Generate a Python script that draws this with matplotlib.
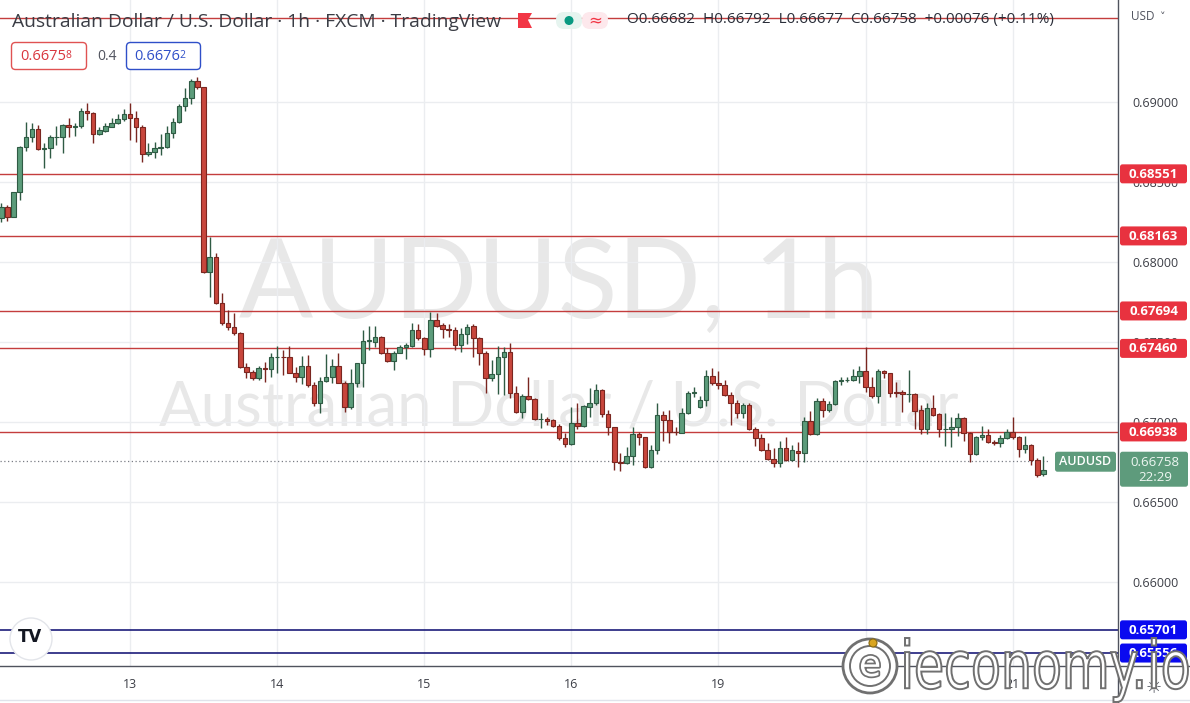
import numpy as np
import matplotlib
matplotlib.use("Agg")
import matplotlib.pyplot as plt
import matplotlib.patheffects as pe
from matplotlib.patches import Circle, FancyBboxPatch, PathPatch, Polygon
from matplotlib.textpath import TextPath
from matplotlib.font_manager import FontProperties
from matplotlib.transforms import Affine2D

# ---------------- data ----------------
opens = [0.68273, 0.68346, 0.68283, 0.68435, 0.68717, 0.68779, 0.68829, 0.68706, 0.68710, 0.68779,
         0.68781, 0.68856, 0.68842, 0.68850, 0.68944, 0.68929, 0.68798, 0.68821, 0.68846, 0.68867,
         0.68892, 0.68925, 0.68898, 0.68842, 0.68673, 0.68685, 0.68710, 0.68717, 0.68804, 0.68877,
         0.68975, 0.69023, 0.69131, 0.69092, 0.67940, 0.68029, 0.67742, 0.67617, 0.67596, 0.67554,
         0.67342, 0.67315, 0.67273, 0.67335, 0.67329, 0.67404, 0.67408, 0.67404, 0.67308, 0.67283,
         0.67350, 0.67231, 0.67121, 0.67258, 0.67283, 0.67350, 0.67246, 0.67092, 0.67242, 0.67367,
         0.67508, 0.67502, 0.67529, 0.67433, 0.67383, 0.67433, 0.67467, 0.67475, 0.67575, 0.67523,
         0.67454, 0.67638, 0.67606, 0.67579, 0.67575, 0.67481, 0.67550, 0.67600, 0.67523, 0.67429,
         0.67273, 0.67300, 0.67404, 0.67440, 0.67183, 0.67065, 0.67163, 0.67146, 0.67017, 0.67017,
         0.67013, 0.66975, 0.66898, 0.66863, 0.66992, 0.66975, 0.67096, 0.67117, 0.67200, 0.67050,
         0.66967, 0.66752, 0.66742, 0.66788, 0.66925, 0.66904, 0.66717, 0.66825, 0.67042, 0.67013,
         0.66940, 0.66933, 0.67054, 0.67183, 0.67092, 0.67138, 0.67288, 0.67242, 0.67229, 0.67169,
         0.67121, 0.67054, 0.67104, 0.66954, 0.66898, 0.66825, 0.66767, 0.66746, 0.66835, 0.66763,
         0.66821, 0.66804, 0.67008, 0.66925, 0.67133, 0.67075, 0.67113, 0.67258, 0.67260, 0.67263,
         0.67290, 0.67319, 0.67221, 0.67165, 0.67319, 0.67304, 0.67188, 0.67190, 0.67173, 0.67175,
         0.67075, 0.66958, 0.67085, 0.67048, 0.66954, 0.66954, 0.66967, 0.67023, 0.66933, 0.66800,
         0.66904, 0.66919, 0.66877, 0.66867, 0.66898, 0.66940, 0.66904, 0.66829, 0.66856, 0.66763,
         0.66675]
highs = [0.68367, 0.68356, 0.68440, 0.68725, 0.68877, 0.68867, 0.68856, 0.68746, 0.68794, 0.68850,
         0.68863, 0.68898, 0.68867, 0.68960, 0.68996, 0.68935, 0.68846, 0.68867, 0.68898, 0.68925,
         0.68954, 0.68992, 0.68946, 0.68856, 0.68746, 0.68752, 0.68800, 0.68850, 0.68898, 0.68988,
         0.69085, 0.69142, 0.69158, 0.69096, 0.68158, 0.68054, 0.67804, 0.67700, 0.67679, 0.67565,
         0.67371, 0.67325, 0.67350, 0.67377, 0.67429, 0.67475, 0.67450, 0.67475, 0.67346, 0.67413,
         0.67419, 0.67252, 0.67283, 0.67425, 0.67392, 0.67429, 0.67258, 0.67329, 0.67371, 0.67575,
         0.67600, 0.67600, 0.67538, 0.67460, 0.67446, 0.67481, 0.67492, 0.67617, 0.67613, 0.67533,
         0.67690, 0.67683, 0.67617, 0.67613, 0.67592, 0.67585, 0.67613, 0.67613, 0.67533, 0.67446,
         0.67388, 0.67475, 0.67467, 0.67492, 0.67225, 0.67175, 0.67283, 0.67150, 0.67054, 0.67033,
         0.67017, 0.66988, 0.66933, 0.67092, 0.67117, 0.67106, 0.67210, 0.67238, 0.67204, 0.67075,
         0.66971, 0.66804, 0.66846, 0.66967, 0.66940, 0.66908, 0.66856, 0.67121, 0.67071, 0.67075,
         0.66971, 0.67085, 0.67196, 0.67221, 0.67163, 0.67325, 0.67335, 0.67321, 0.67263, 0.67190,
         0.67138, 0.67117, 0.67117, 0.66967, 0.66925, 0.66871, 0.66835, 0.66883, 0.66904, 0.66856,
         0.66877, 0.67029, 0.67071, 0.67148, 0.67148, 0.67133, 0.67263, 0.67283, 0.67283, 0.67329,
         0.67350, 0.67471, 0.67279, 0.67329, 0.67325, 0.67308, 0.67252, 0.67200, 0.67325, 0.67183,
         0.67106, 0.67117, 0.67169, 0.67054, 0.67054, 0.67029, 0.67054, 0.67033, 0.66940, 0.66913,
         0.66975, 0.66954, 0.66888, 0.66919, 0.66954, 0.67033, 0.66913, 0.66913, 0.66863, 0.66773,
         0.66785]
lows = [0.68252, 0.68258, 0.68280, 0.68388, 0.68696, 0.68752, 0.68700, 0.68590, 0.68648, 0.68731,
        0.68683, 0.68783, 0.68790, 0.68835, 0.68888, 0.68742, 0.68794, 0.68815, 0.68842, 0.68863,
        0.68883, 0.68763, 0.68752, 0.68627, 0.68663, 0.68648, 0.68669, 0.68710, 0.68773, 0.68867,
        0.68946, 0.68988, 0.69079, 0.67929, 0.67783, 0.67738, 0.67606, 0.67575, 0.67544, 0.67335,
        0.67273, 0.67263, 0.67263, 0.67252, 0.67279, 0.67304, 0.67294, 0.67304, 0.67252, 0.67238,
        0.67221, 0.67100, 0.67054, 0.67252, 0.67246, 0.67242, 0.67065, 0.67079, 0.67221, 0.67221,
        0.67450, 0.67471, 0.67425, 0.67377, 0.67325, 0.67430, 0.67392, 0.67467, 0.67513, 0.67419,
        0.67404, 0.67596, 0.67523, 0.67533, 0.67450, 0.67440, 0.67488, 0.67404, 0.67356, 0.67179,
        0.67258, 0.67175, 0.67169, 0.67148, 0.67054, 0.67023, 0.67138, 0.67013, 0.66960, 0.66981,
        0.66971, 0.66888, 0.66842, 0.66856, 0.66954, 0.66971, 0.67033, 0.67106, 0.67033, 0.66919,
        0.66700, 0.66696, 0.66738, 0.66731, 0.66856, 0.66710, 0.66710, 0.66800, 0.66883, 0.66867,
        0.66919, 0.66929, 0.67050, 0.67158, 0.67090, 0.67100, 0.67231, 0.67204, 0.67163, 0.66981,
        0.67023, 0.67023, 0.66950, 0.66850, 0.66821, 0.66763, 0.66721, 0.66721, 0.66758, 0.66758,
        0.66721, 0.66752, 0.66919, 0.66919, 0.67033, 0.67065, 0.67106, 0.67231, 0.67252, 0.67258,
        0.67242, 0.67190, 0.67148, 0.67121, 0.67273, 0.67158, 0.67158, 0.67065, 0.67127, 0.66954,
        0.66925, 0.66925, 0.67038, 0.66908, 0.66850, 0.66842, 0.66913, 0.66883, 0.66752, 0.66794,
        0.66888, 0.66871, 0.66856, 0.66846, 0.66892, 0.66892, 0.66779, 0.66804, 0.66731, 0.66658,
        0.66665]
closes = [0.68346, 0.68283, 0.68435, 0.68717, 0.68779, 0.68829, 0.68706, 0.68710, 0.68779, 0.68781,
          0.68856, 0.68842, 0.68850, 0.68944, 0.68929, 0.68798, 0.68825, 0.68850, 0.68871, 0.68892,
          0.68925, 0.68898, 0.68842, 0.68673, 0.68685, 0.68710, 0.68717, 0.68804, 0.68877, 0.68975,
          0.69023, 0.69131, 0.69092, 0.67940, 0.68029, 0.67742, 0.67617, 0.67596, 0.67554, 0.67342,
          0.67315, 0.67273, 0.67335, 0.67333, 0.67404, 0.67408, 0.67406, 0.67308, 0.67283, 0.67350,
          0.67231, 0.67121, 0.67258, 0.67283, 0.67350, 0.67246, 0.67092, 0.67242, 0.67367, 0.67508,
          0.67510, 0.67529, 0.67433, 0.67383, 0.67433, 0.67467, 0.67481, 0.67575, 0.67523, 0.67454,
          0.67638, 0.67600, 0.67579, 0.67577, 0.67481, 0.67550, 0.67596, 0.67523, 0.67429, 0.67273,
          0.67300, 0.67404, 0.67440, 0.67183, 0.67065, 0.67163, 0.67146, 0.67017, 0.67017, 0.67008,
          0.66975, 0.66898, 0.66863, 0.66992, 0.66975, 0.67100, 0.67117, 0.67200, 0.67050, 0.66967,
          0.66752, 0.66742, 0.66788, 0.66925, 0.66904, 0.66717, 0.66825, 0.67042, 0.67013, 0.66940,
          0.66938, 0.67054, 0.67183, 0.67185, 0.67138, 0.67288, 0.67242, 0.67229, 0.67169, 0.67121,
          0.67054, 0.67104, 0.66954, 0.66898, 0.66825, 0.66767, 0.66746, 0.66835, 0.66763, 0.66825,
          0.66804, 0.67008, 0.66925, 0.67133, 0.67075, 0.67113, 0.67258, 0.67260, 0.67263, 0.67290,
          0.67319, 0.67221, 0.67165, 0.67319, 0.67304, 0.67179, 0.67181, 0.67173, 0.67175, 0.67071,
          0.66958, 0.67085, 0.67044, 0.66954, 0.66956, 0.66967, 0.67023, 0.66933, 0.66800, 0.66904,
          0.66919, 0.66877, 0.66867, 0.66898, 0.66940, 0.66904, 0.66829, 0.66856, 0.66763, 0.66669,
          0.66702]

day_bar_index = [21, 45, 69, 93, 117, 141, 165]
day_labels = ["13", "14", "15", "16", "19", "20", "21"]

red_levels = [0.68551, 0.68163, 0.67694, 0.67460, 0.66938]
blue_levels = [0.65701, 0.65556]
top_level = 0.69525
last_price = 0.66758
price_ticks = [0.660, 0.665, 0.670, 0.675, 0.680, 0.685, 0.690]

header_title = "Australian Dollar / U.S. Dollar · 1h · FXCM · TradingView"
header_ohlc = "O0.66682  H0.66792  L0.66677  C0.66758  +0.00076 (+0.11%)"
bid_main, bid_sup = "0.6675", "8"
ask_main, ask_sup = "0.6676", "2"
spread = "0.4"
countdown = "22:29"
symbol = "AUDUSD"

# ---------------- style ----------------
GREEN, GREEN_EDGE = "#5c9c7b", "#2f5b44"
RED, RED_EDGE = "#c8463c", "#7a2620"
LEVEL_RED = "#c43d3d"
LEVEL_BLUE = "#1c1c7a"
LABEL_RED = "#e8323f"
LABEL_BLUE = "#0a0af0"
LABEL_GREEN = "#5e9b7c"
GRID = "#ebedf0"
FONT = "Open Sans"
WM_FONT = "Lato"

W, H = 1190, 703
fig = plt.figure(figsize=(W / 100, H / 100), dpi=100)
fig.patch.set_facecolor("white")

AX_R, AX_B = 1118, 666
ax = fig.add_axes([0, (H - AX_B) / H, AX_R / W, AX_B / H])
ax.set_facecolor("white")

px_per_bar = 6.13
x_left = day_bar_index[0] - 130 / px_per_bar
x_right = day_bar_index[0] + (AX_R - 130) / px_per_bar
ax.set_xlim(x_left, x_right)
ax.set_ylim(0.65475, 0.696375)

# grid / ticks
ax.set_xticks(day_bar_index)
ax.set_xticklabels(day_labels)
ax.set_yticks(price_ticks)
ax.set_yticklabels([f"{v:.5f}" for v in price_ticks])
ax.yaxis.tick_right()
ax.tick_params(axis="both", length=0, labelsize=9, labelcolor="#3d3f47")
ax.tick_params(axis="y", pad=10)
ax.tick_params(axis="x", pad=9)
for lab in ax.get_xticklabels() + ax.get_yticklabels():
    lab.set_fontfamily(FONT)
ax.grid(True, color=GRID, lw=1, zorder=0)
ax.set_axisbelow(True)
for s in ["left", "top"]:
    ax.spines[s].set_visible(False)
for s in ["right", "bottom"]:
    ax.spines[s].set_color("#50535e")
    ax.spines[s].set_linewidth(1)

# watermarks
ax.text(0.4995, 1 - 318 / AX_B, "AUDUSD, 1h", transform=ax.transAxes, ha="center", va="baseline",
        fontsize=79, color="#e8e8e8", family=WM_FONT, zorder=0.5)
ax.text(0.4995, 1 - 425 / AX_B, "Australian Dollar / U.S. Dollar", transform=ax.transAxes,
        ha="center", va="baseline", fontsize=44.5, color="#e8e8e8", family=WM_FONT, zorder=0.5)

# candles
o = np.array(opens); h = np.array(highs); l = np.array(lows); c = np.array(closes)
idx = np.arange(len(o))
up = c >= o
dn = ~up
ax.vlines(idx[up], l[up], h[up], color=GREEN_EDGE, lw=1, zorder=3)
ax.vlines(idx[dn], l[dn], h[dn], color=RED_EDGE, lw=1, zorder=3)
ax.bar(idx[up], c[up] - o[up], bottom=o[up], width=0.74, color=GREEN,
       edgecolor=GREEN_EDGE, lw=0.8, zorder=4)
ax.bar(idx[dn], o[dn] - c[dn], bottom=c[dn], width=0.74, color=RED,
       edgecolor=RED_EDGE, lw=0.8, zorder=4)

# levels
for lv in red_levels + [top_level]:
    ax.axhline(lv, color=LEVEL_RED, lw=1, zorder=2)
for lv in blue_levels:
    ax.axhline(lv, color=LEVEL_BLUE, lw=1.2, zorder=2)
ax.axhline(last_price, xmax=(1050 / AX_R), color="#7a7d85", lw=0.9, ls=(0, (1, 2)), zorder=2)

# ---------------- overlay (pixel coords) ----------------
ov = fig.add_axes([0, 0, 1, 1], zorder=10)
ov.set_xlim(0, W)
ov.set_ylim(H, 0)
ov.axis("off")
ov.patch.set_alpha(0)


def price_to_px(price):
    """Pixel row (from top) of a price, through the main axes' scale."""
    return H - ax.transData.transform((0, price))[1]


def axis_label(price, text, fc, tc="white", bold=True):
    y = price_to_px(price)
    ov.add_patch(FancyBboxPatch((1120, y - 9.5), 67, 19, boxstyle="round,pad=0,rounding_size=2.5",
                                fc=fc, ec="none", zorder=20))
    ov.text(1153.5, y + 0.5, text, ha="center", va="center", fontsize=9.5, color=tc, family=FONT,
            fontweight="bold" if bold else "normal", zorder=21)


for lv in red_levels:
    axis_label(lv, f"{lv:.5f}", LABEL_RED)
for lv in blue_levels:
    axis_label(lv, f"{lv:.5f}", LABEL_BLUE)

# current price labels
yp = price_to_px(last_price)
ov.add_patch(FancyBboxPatch((1120, yp - 9), 68, 35, boxstyle="round,pad=0,rounding_size=2.5",
                            fc=LABEL_GREEN, ec="none", zorder=20))
ov.text(1155, yp + 2, f"{last_price:.5f}", ha="center", va="center", fontsize=9.5,
        color="#eef7f2", family=FONT, zorder=21)
ov.text(1155, yp + 17, countdown, ha="center", va="center", fontsize=9.5,
        color="#eef7f2", family=FONT, zorder=21)
ov.add_patch(FancyBboxPatch((1055, yp - 9), 61, 20, boxstyle="round,pad=0,rounding_size=2.5",
                            fc=LABEL_GREEN, ec="none", zorder=20))
ov.text(1085.5, yp + 1, symbol, ha="center", va="center", fontsize=9, color="white",
        family=FONT, fontweight="semibold", zorder=21)

# header
ov.text(12, 22, header_title, fontsize=13.9, color="#3a3d45", family=FONT, va="center", ha="left")
ov.add_patch(Polygon([[518, 13], [532, 13], [528, 20], [532, 28], [518, 28]], closed=True,
                     fc="#f23645", ec="none"))
ov.add_patch(FancyBboxPatch((556, 12), 26, 17, boxstyle="round,pad=0,rounding_size=8",
                            fc="#e6f4ef", ec="none"))
ov.add_patch(FancyBboxPatch((582, 12), 26, 17, boxstyle="round,pad=0,rounding_size=8",
                            fc="#fde8ec", ec="none"))
ov.add_patch(Circle((569, 20.5), 4.5, fc="#089981", ec="none"))
ov.text(595, 20, "≈", fontsize=12, color="#f23645", ha="center", va="center", family="DejaVu Sans")
ov.text(627, 20, header_ohlc, fontsize=11, color="#2a2e39", family=FONT, va="center", ha="left")
ov.text(1131, 16, "USD", fontsize=8.5, color="#50535e", family=FONT, va="center", ha="left")
ov.text(1160, 17, "˅", fontsize=8, color="#50535e", family="DejaVu Sans", va="center", ha="left")

# bid / ask boxes
ov.add_patch(FancyBboxPatch((11.5, 42.5), 75, 27, boxstyle="round,pad=0,rounding_size=4",
                            fc="white", ec="#e05252", lw=1))
t1 = ov.text(20, 57, bid_main, fontsize=10.5, color="#d9363e", family=FONT, va="center", ha="left")
ov.annotate(bid_sup, xy=(1, 0.95), xycoords=t1, fontsize=7.5, color="#d9363e", family=FONT,
            va="top", ha="left")
ov.text(97, 57, spread, fontsize=10, color="#50535e", family=FONT, va="center", ha="left")
ov.add_patch(FancyBboxPatch((126.5, 42.5), 74, 27, boxstyle="round,pad=0,rounding_size=4",
                            fc="white", ec="#2f4fc8", lw=1))
t2 = ov.text(134, 57, ask_main, fontsize=10.5, color="#2f4fc8", family=FONT, va="center", ha="left")
ov.annotate(ask_sup, xy=(1, 0.95), xycoords=t2, fontsize=7.5, color="#2f4fc8", family=FONT,
            va="top", ha="left")

# right axis continuation & bottom line
ov.plot([AX_R, AX_R], [AX_B, H], color="#50535e", lw=1)
ov.plot([0, W], [700, 700], color="#e0e3eb", lw=1)
ov.plot([AX_R, W], [AX_B, AX_B], color="#50535e", lw=1)

# TradingView logo
ov.add_patch(Circle((31, 639), 21, fc="white", ec="#e3e5ea", lw=1))
ov.text(30, 637, "TV", fontsize=12, fontweight="bold", color="#131722", ha="center",
        va="center", family="DejaVu Sans")

# settings icon
ov.text(1154, 688, "☼", fontsize=13, color="#50535e", ha="center", va="center",
        family="DejaVu Sans")

# ieconomy.io logo
fp = FontProperties(family="DejaVu Sans")
tp = TextPath((0, 0), "ieconomy.io", size=1, prop=fp)
bb = tp.get_extents()
x0, x1, y0, y1 = 905, 1188, 638, 702
sx = (x1 - x0) / bb.width
sy = (y1 - y0) / bb.height
trans = Affine2D().scale(sx, -sy).translate(x0 - bb.x0 * sx, y0 + bb.y1 * sy)
ov.add_patch(PathPatch(trans.transform_path(tp), fc="white", ec="#707070", lw=1.4, zorder=30))
ov.add_patch(Circle((870, 666), 27, fc="white", ec="#707070", lw=2.0, zorder=30))
ov.add_patch(Circle((870, 666), 20, fc="white", ec="#707070", lw=1.4, zorder=31))
ov.text(870, 666, "e", fontsize=26, color="white", ha="center", va="center",
        family="DejaVu Sans", zorder=32,
        path_effects=[pe.withStroke(linewidth=2.5, foreground="#707070")])
ov.add_patch(Circle((873, 643), 4, fc="#d9a520", ec="#8a6a10", lw=0.8, zorder=33))

fig.savefig("out.png", dpi=100, facecolor="white")
